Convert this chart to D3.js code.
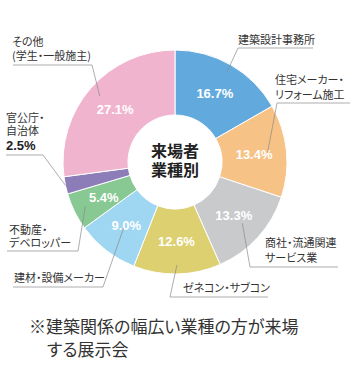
<!DOCTYPE html>
<html lang="ja">
<head>
<meta charset="utf-8">
<script src="https://cdn.jsdelivr.net/npm/d3@7"></script>
<style>
  html, body { margin: 0; padding: 0; background: #fff; }
  svg { display: block; font-family: "Noto Sans CJK JP", "Noto Sans", sans-serif; }
  .lbl, .note { font-feature-settings: "palt"; }
</style>
</head>
<body>
<svg id="chart" width="350" height="375"></svg>
<script>
// Visitor breakdown by industry (%), clockwise from 12 o'clock
const categories = [
  "建築設計事務所",
  "住宅メーカー・リフォーム施工",
  "商社・流通関連サービス業",
  "ゼネコン・サブコン",
  "建材・設備メーカー",
  "不動産・デベロッパー",
  "官公庁・自治体",
  "その他(学生・一般施主)"
];
const values = [16.7, 13.4, 13.3, 12.6, 9.0, 5.4, 2.5, 27.1];
const colors = ["#62a9dd", "#f7c285", "#c9cacb", "#dcd070", "#9fd6f2", "#88c893", "#8c7db9", "#f1b4ce"];

// Outside label text lines for each slice
const labelLines = [
  ["建築設計事務所"],
  ["住宅メーカー・", "リフォーム施工"],
  ["商社・流通関連", "サービス業"],
  ["ゼネコン・サブコン"],
  ["建材・設備メーカー"],
  ["不動産・", "デベロッパー"],
  ["官公庁・", "自治体"],
  ["その他", "(学生・一般施主)"]
];

const svg = d3.select("#chart");
const cx = 175, cy = 162;
const rOuter = 112, rInner = 47;

const data = categories.map((c, i) => ({ name: c, value: values[i], color: colors[i], lines: labelLines[i] }));

const pie = d3.pie().value(d => d.value).sort(null);
const arcs = pie(data);
const arc = d3.arc().innerRadius(rInner).outerRadius(rOuter);
const pt = (a, r) => [cx + r * Math.sin(a), cy - r * Math.cos(a)];

const g = svg.append("g").attr("transform", `translate(${cx},${cy})`);
g.selectAll("path.slice").data(arcs).join("path")
  .attr("class", "slice")
  .attr("d", arc)
  .attr("fill", d => d.data.color)
  .attr("stroke", "#fff")
  .attr("stroke-width", 1);

// Percentage labels inside the ring (small slices labelled outside)
g.selectAll("text.pct").data(arcs.filter(d => d.data.value >= 5)).join("text")
  .attr("class", "pct")
  .attr("transform", d => `translate(${arc.centroid(d)})`)
  .attr("text-anchor", "middle")
  .attr("dy", "0.36em")
  .attr("fill", "#fff")
  .attr("font-family", "'Liberation Sans', Arial, sans-serif")
  .attr("font-weight", "bold")
  .attr("font-size", 13)
  .text(d => d3.format(".1f")(d.data.value) + "%");

// Centre title
const title = svg.append("text").attr("text-anchor", "middle")
  .attr("font-weight", "bold").attr("font-size", 16).attr("fill", "#222");
title.append("tspan").attr("x", cx).attr("y", 157).text("来場者");
title.append("tspan").attr("x", cx).attr("y", 176).text("業種別");

// Leader-line layout per slice: start radius, elbow point, underline end, text anchor and line positions
const leaders = [
  { r: 103, elbow: [238, 48], end: [313, 48], tx: 238, ty: [44] },
  { r: 93,  elbow: [277, 103], end: [350, 103], tx: 275, ty: [84, 99] },
  { r: 91,  elbow: [250, 267], end: [338, 267], tx: 265, ty: [247, 262] },
  { r: 103, elbow: [170, 297], end: [268, 297], tx: 183, ty: [292] },
  { r: 84,  elbow: [103, 287], end: [13, 287], tx: 14, ty: [282] },
  { r: 100, elbow: [78, 251], end: [7, 251], tx: 9, ty: [234, 247] },
  { r: 112, elbow: [43, 155], end: [6, 155], tx: 6, ty: [122, 135] },
  { r: 100, elbow: [92, 65], end: [13, 65], tx: 12, ty: [46, 60] }
];

const lineG = svg.append("g").attr("fill", "none").attr("stroke", "#8a8a8a").attr("stroke-width", 0.7);
arcs.forEach((d, i) => {
  const L = leaders[i];
  const mid = (d.startAngle + d.endAngle) / 2;
  const s = pt(mid, L.r);
  lineG.append("polyline").attr("points", [s, L.elbow, L.end].map(p => p.join(",")).join(" "));
  const t = svg.append("text").attr("class", "lbl").attr("font-size", 11).attr("fill", "#333");
  d.data.lines.forEach((ln, k) => {
    t.append("tspan").attr("x", L.tx).attr("y", L.ty[k]).text(ln);
  });
});

// Small slice value shown beside its outside label
const small = arcs.find(d => d.data.value < 5);
svg.append("text").attr("x", 6).attr("y", 150)
  .attr("font-family", "'Liberation Sans', Arial, sans-serif")
  .attr("font-weight", "bold").attr("font-size", 13).attr("fill", "#222")
  .text(d3.format(".1f")(small.data.value) + "%");

// Footnote
const note = svg.append("text").attr("class", "note").attr("font-size", 17).attr("fill", "#333");
note.append("tspan").attr("x", 29).attr("y", 333).text("※建築関係の幅広い業種の方が来場");
note.append("tspan").attr("x", 47).attr("y", 356).text("する展示会");
</script>
</body>
</html>
